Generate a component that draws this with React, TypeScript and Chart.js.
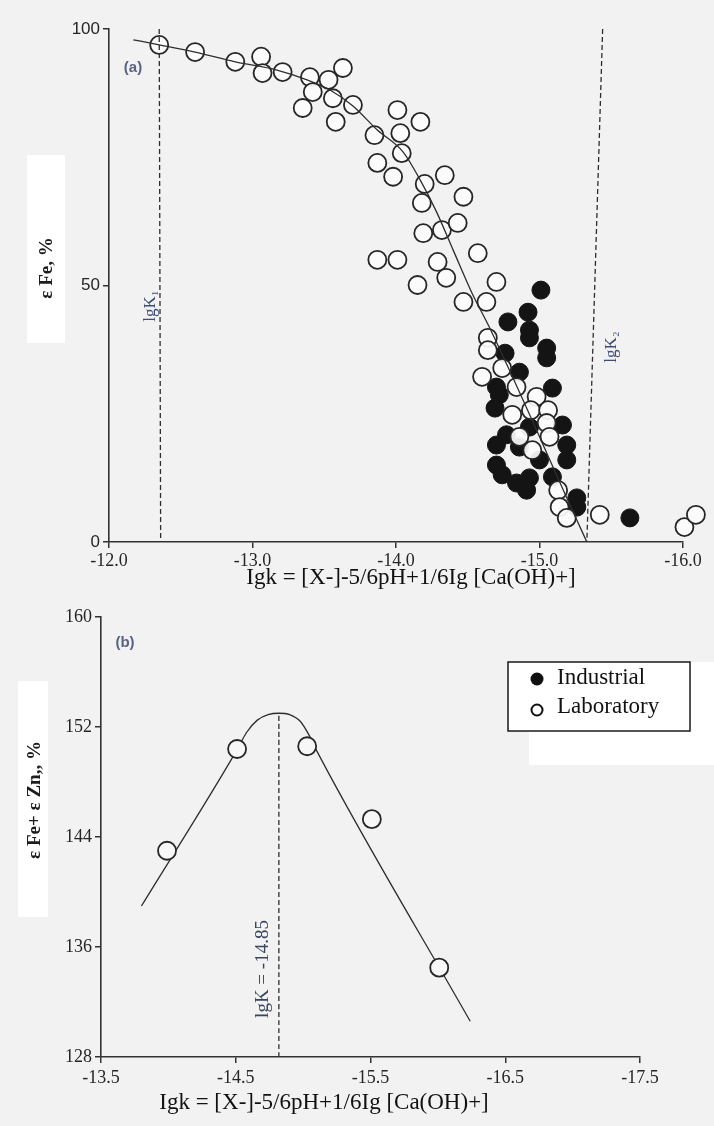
import React, { useEffect, useRef } from "react";
import { Chart, registerables } from "chart.js";

Chart.register(...registerables);

const SERIF = "'Liberation Serif', 'Times New Roman', serif";
const SANS = "'Liberation Sans', Arial, sans-serif";

// ---------------- Panel (a) ----------------
const xTitle = "Igk = [X-]-5/6pH+1/6Ig [Ca(OH)+]";
const yTitleA = "ε Fe, %";
const panelLabelA = "(a)";
const xTicksA = [-12, -13, -14, -15, -16];
const yTicksA = [0, 50, 100];

const curveAX = [-12.17, -12.35, -12.6, -12.88, -13.17, -13.38, -13.54, -13.7, -13.87, -14.05, -14.17, -14.28, -14.4, -14.53, -14.65, -15.26, -15.33];
const curveAY = [97.9, 96.9, 95.5, 93.6, 92.0, 90.1, 88.1, 85.0, 80.3, 76.0, 70.5, 64.5, 56.8, 48.5, 41.9, 4.3, 0];

const labAX = [-12.35, -12.6, -12.88, -13.06, -13.07, -13.21, -13.4, -13.53, -13.63, -13.42, -13.35, -13.56, -13.7, -13.58, -13.85, -14.01, -14.17, -14.03, -14.04, -13.87, -13.98, -14.2, -14.34, -14.18, -14.47, -14.19, -14.32, -14.43, -14.57, -13.87, -14.01, -14.29, -14.35, -14.15, -14.7, -14.47, -14.63, -14.64, -14.64, -14.6, -14.74, -14.84, -14.98, -14.81, -14.94, -15.06, -15.05, -15.07, -14.95, -14.86, -15.13, -15.14, -15.19, -15.42, -16.01, -16.09];
const labAY = [96.9, 95.5, 93.6, 94.6, 91.4, 91.6, 90.6, 90.1, 92.4, 87.7, 84.6, 86.5, 85.2, 81.9, 79.3, 84.2, 81.9, 79.7, 75.8, 73.9, 71.2, 69.8, 71.5, 66.1, 67.3, 60.2, 60.8, 62.2, 56.3, 55.0, 55.0, 54.6, 51.5, 50.1, 50.7, 46.8, 46.8, 39.8, 37.4, 32.2, 33.9, 30.2, 28.3, 24.8, 25.7, 25.7, 23.2, 20.5, 17.9, 20.5, 10.1, 6.8, 4.7, 5.3, 2.9, 5.3];

const indAX = [-15.01, -14.92, -14.78, -14.93, -14.93, -15.05, -15.05, -14.76, -14.86, -15.09, -14.7, -14.72, -14.69, -14.93, -15.16, -14.77, -14.86, -14.7, -15.19, -15.19, -15.0, -14.7, -14.74, -14.84, -14.93, -14.91, -15.09, -15.26, -15.26, -15.63];
const indAY = [49.1, 44.8, 42.9, 41.3, 39.8, 37.8, 35.9, 36.8, 33.1, 30.0, 30.2, 28.7, 26.1, 22.4, 22.8, 20.9, 18.5, 18.9, 18.9, 16.0, 16.0, 15.0, 13.1, 11.5, 12.5, 10.1, 12.7, 8.6, 6.8, 4.7];

const lgK1X = [-12.35, -12.36];
const lgK1Y = [100, 0];
const lgK1Label = "lgK₁";
const lgK2X = [-15.44, -15.33];
const lgK2Y = [100, 0];
const lgK2Label = "lgK₂";

// ---------------- Panel (b) ----------------
const yTitleB = "ε Fe+ ε Zn,, %";
const panelLabelB = "(b)";
const xTicksB = [-13.5, -14.5, -15.5, -16.5, -17.5];
const yTicksB = [128, 136, 144, 152, 160];

const curveBX = [-13.8, -14.51, -14.58, -14.66, -14.74, -14.82, -14.9, -14.98, -15.05, -15.11, -16.24];
const curveBY = [138.98, 150.35, 151.6, 152.5, 152.9, 153.0, 152.9, 152.4, 151.3, 150.1, 130.6];

const labBX = [-13.99, -14.51, -15.03, -15.51, -16.01];
const labBY = [143.0, 150.4, 150.6, 145.3, 134.5];

const lgKBValue = -14.82;
const lgKBY = [128, 153];
const lgKBLabel = "lgK = -14.85";

const legendLabels = ["Industrial", "Laboratory"];

// ------------------------------------------------
const pts = (xs: number[], ys: number[]) => xs.map((x, i) => ({ x, y: ys[i] }));

function vtext(ctx: CanvasRenderingContext2D, text: string, x: number, y: number, font: string, color: string) {
  ctx.save();
  ctx.translate(x, y);
  ctx.rotate(-Math.PI / 2);
  ctx.font = font;
  ctx.fillStyle = color;
  ctx.textAlign = "center";
  ctx.textBaseline = "middle";
  ctx.fillText(text, 0, 0);
  ctx.restore();
}

function htext(ctx: CanvasRenderingContext2D, text: string, x: number, y: number, font: string, color: string, align: CanvasTextAlign = "center") {
  ctx.save();
  ctx.font = font;
  ctx.fillStyle = color;
  ctx.textAlign = align;
  ctx.textBaseline = "middle";
  ctx.fillText(text, x, y);
  ctx.restore();
}

function axis(opts: any) {
  return {
    type: "linear",
    min: opts.min,
    max: opts.max,
    reverse: !!opts.reverse,
    afterBuildTicks: (s: any) => {
      s.ticks = opts.ticks.map((v: number) => ({ value: v }));
    },
    afterFit: (s: any) => {
      if (opts.width !== undefined) s.width = opts.width;
      if (opts.height !== undefined) s.height = opts.height;
    },
    ticks: {
      callback: opts.fmt,
      font: { family: opts.family || SERIF, size: opts.fontSize },
      color: "#262626",
      padding: opts.padding,
      maxRotation: 0,
      autoSkip: false,
    },
    grid: { drawOnChartArea: false, tickLength: 6, color: "#333", lineWidth: 1.5 },
    border: { color: "#333", width: 1.6 },
  };
}

const lineDs = (data: any, dash: number[] | undefined, order: number) => ({
  data,
  showLine: true,
  pointRadius: 0,
  borderColor: "#2e2e2e",
  borderWidth: 1.3,
  borderDash: dash || [],
  cubicInterpolationMode: "monotone",
  order,
  clip: false,
});

export default function App() {
  const refA = useRef<HTMLCanvasElement>(null);
  const refB = useRef<HTMLCanvasElement>(null);

  useEffect(() => {
    const annotA = {
      id: "annotA",
      afterDraw(chart: any) {
        const ctx = chart.ctx as CanvasRenderingContext2D;
        const ca = chart.chartArea;
        const xs = chart.scales.x;
        const ys = chart.scales.y;
        htext(ctx, panelLabelA, ca.left + 24, ca.top + 39, `bold 15px ${SANS}`, "#5a6480");
        vtext(ctx, lgK1Label, xs.getPixelForValue(-12.355) - 9, ys.getPixelForValue(46), `17px ${SERIF}`, "#3f4d75");
        vtext(ctx, lgK2Label, xs.getPixelForValue(-15.372) + 19, ys.getPixelForValue(38), `17px ${SERIF}`, "#3f4d75");
        vtext(ctx, yTitleA, 47, 268, `bold 19px ${SERIF}`, "#1c1c1c");
        htext(ctx, xTitle, (ca.left + ca.right) / 2 + 15, 578, `23px ${SERIF}`, "#111");
      },
    };

    const annotB = {
      id: "annotB",
      afterDraw(chart: any) {
        const ctx = chart.ctx as CanvasRenderingContext2D;
        const ca = chart.chartArea;
        const xs = chart.scales.x;
        const ys = chart.scales.y;
        htext(ctx, panelLabelB, ca.left + 24, ca.top + 26, `bold 15px ${SANS}`, "#5a6480");
        vtext(ctx, lgKBLabel, xs.getPixelForValue(lgKBValue) - 16, ys.getPixelForValue(134.4), `19px ${SERIF}`, "#3a4560");
        vtext(ctx, yTitleB, 35, 200, `bold 19px ${SERIF}`, "#1c1c1c");
        htext(ctx, xTitle, 324, 503, `23px ${SERIF}`, "#111");
        // legend
        const bx = 508, by = 62, bw = 182, bh = 69;
        ctx.save();
        ctx.fillStyle = "#ffffff";
        ctx.fillRect(bx, by, bw, bh);
        ctx.strokeStyle = "#1a1a1a";
        ctx.lineWidth = 1.5;
        ctx.strokeRect(bx, by, bw, bh);
        ctx.beginPath();
        ctx.arc(537, 79, 6.5, 0, Math.PI * 2);
        ctx.fillStyle = "#111";
        ctx.fill();
        ctx.beginPath();
        ctx.arc(537, 110, 5.5, 0, Math.PI * 2);
        ctx.fillStyle = "#fff";
        ctx.fill();
        ctx.lineWidth = 2;
        ctx.strokeStyle = "#111";
        ctx.stroke();
        ctx.restore();
        htext(ctx, legendLabels[0], 557, 78, `23px ${SERIF}`, "#111", "left");
        htext(ctx, legendLabels[1], 557, 107, `23px ${SERIF}`, "#111", "left");
      },
    };

    const chartA = new Chart(refA.current as HTMLCanvasElement, {
      type: "scatter",
      data: {
        datasets: [
          lineDs(pts(curveAX, curveAY), undefined, 0),
          lineDs(pts(lgK1X, lgK1Y), [5, 3], 0),
          lineDs(pts(lgK2X, lgK2Y), [5, 3], 0),
          {
            label: legendLabels[1],
            data: pts(labAX, labAY),
            pointRadius: 9,
            pointHoverRadius: 16,
            pointBackgroundColor: "rgba(252,252,252,0.92)",
            pointBorderColor: "#262626",
            pointBorderWidth: 1.8,
            order: 1,
            clip: false,
          },
          {
            label: legendLabels[0],
            data: pts(indAX, indAY),
            pointRadius: 9,
            pointHoverRadius: 16,
            pointBackgroundColor: "#141414",
            pointBorderColor: "#141414",
            pointBorderWidth: 1,
            order: 2,
            clip: false,
          },
        ] as any,
      },
      options: {
        responsive: false,
        animation: false,
        events: [],
        layout: { padding: { left: 0, right: 31, top: 29, bottom: 0 } },
        plugins: { legend: { display: false }, tooltip: { enabled: false } },
        scales: {
          x: axis({ min: -16, max: -12, reverse: true, ticks: xTicksA, fmt: (v: any) => Number(v).toFixed(1), fontSize: 18, padding: 2, height: 58 }) as any,
          y: axis({ min: 0, max: 100, ticks: yTicksA, fmt: (v: any) => String(v), fontSize: 17, family: SANS, padding: 3, width: 109 }) as any,
        },
      },
      plugins: [annotA],
    });

    const chartB = new Chart(refB.current as HTMLCanvasElement, {
      type: "scatter",
      data: {
        datasets: [
          lineDs(pts(curveBX, curveBY), undefined, 1),
          lineDs(pts([lgKBValue, lgKBValue], lgKBY), [5, 3], 1),
          {
            label: legendLabels[1],
            data: pts(labBX, labBY),
            pointRadius: 9,
            pointBackgroundColor: "#f7f7f7",
            pointBorderColor: "#262626",
            pointBorderWidth: 1.8,
            order: 0,
            clip: false,
          },
        ] as any,
      },
      options: {
        responsive: false,
        animation: false,
        events: [],
        layout: { padding: { left: 0, right: 74, top: 17, bottom: 0 } },
        plugins: { legend: { display: false }, tooltip: { enabled: false } },
        scales: {
          x: axis({ min: -17.5, max: -13.5, reverse: true, ticks: xTicksB, fmt: (v: any) => Number(v).toFixed(1), fontSize: 18, padding: 4, height: 69 }) as any,
          y: axis({ min: 128, max: 160, ticks: yTicksB, fmt: (v: any) => String(v), fontSize: 18, padding: 3, width: 101 }) as any,
        },
      },
      plugins: [annotB],
    });

    return () => {
      chartA.destroy();
      chartB.destroy();
    };
  }, []);

  return (
    <div style={{ position: "absolute", left: 0, top: 0, width: 714, height: 1126, background: "#f2f2f2", overflow: "hidden" }}>
      <div style={{ position: "absolute", left: 27, top: 155, width: 38, height: 188, background: "#ffffff" }} />
      <div style={{ position: "absolute", left: 18, top: 681, width: 30, height: 236, background: "#ffffff" }} />
      <div style={{ position: "absolute", left: 529, top: 662, width: 185, height: 103, background: "#ffffff" }} />
      <canvas ref={refA} width={714} height={600} style={{ position: "absolute", left: 0, top: 0, width: 714, height: 600 }} />
      <canvas ref={refB} width={714} height={526} style={{ position: "absolute", left: 0, top: 600, width: 714, height: 526 }} />
    </div>
  );
}
